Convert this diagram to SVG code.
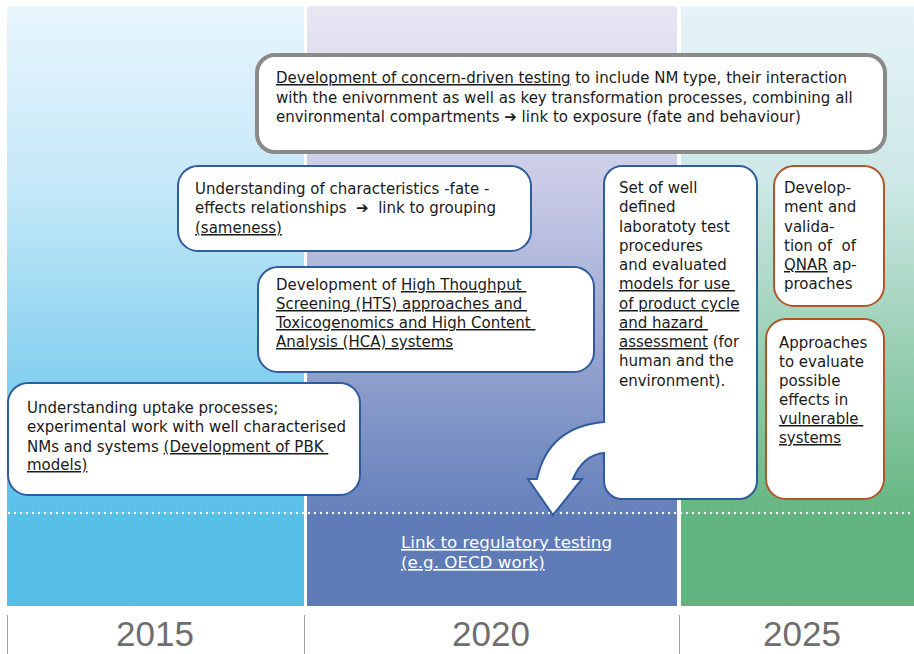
<svg xmlns="http://www.w3.org/2000/svg" width="914" height="654" viewBox="0 0 914 654" xml:space="preserve">
<defs>
<linearGradient id="gL" x1="0" y1="6" x2="0" y2="513" gradientUnits="userSpaceOnUse"><stop offset="0" stop-color="#e8f5fd"/><stop offset="0.35" stop-color="#c6e8f8"/><stop offset="1" stop-color="#58c0e9"/></linearGradient>
<linearGradient id="gM" x1="0" y1="6" x2="0" y2="513" gradientUnits="userSpaceOnUse"><stop offset="0" stop-color="#e9e7f4"/><stop offset="0.35" stop-color="#c9cbe6"/><stop offset="1" stop-color="#6580bb"/></linearGradient>
<linearGradient id="gR" x1="0" y1="6" x2="0" y2="513" gradientUnits="userSpaceOnUse"><stop offset="0" stop-color="#e6f3f9"/><stop offset="0.35" stop-color="#cde8e6"/><stop offset="1" stop-color="#66b682"/></linearGradient>
</defs>
<style>
text{font-family:"DejaVu Sans",Verdana,sans-serif;font-size:15px;fill:#1a1a1a;white-space:pre}
.u{text-decoration:underline}
.blue{fill:#fff;stroke:#2f5b9f;stroke-width:2}
.org{fill:#fff;stroke:#b0562a;stroke-width:2}
.yr{font-family:"Liberation Sans",Arial,sans-serif;font-size:35px;fill:#6e6e6e;text-anchor:middle}
.lnk{fill:#fff;font-size:16.7px}
</style>
<g id="background">
<rect x="7" y="6" width="297" height="507" fill="url(#gL)"/>
<rect x="7" y="513" width="297" height="93" fill="#55bfe8"/>
<rect x="307" y="6" width="370" height="507" fill="url(#gM)"/>
<rect x="307" y="513" width="370" height="93" fill="#5e7bb7"/>
<rect x="681" y="6" width="233" height="507" fill="url(#gR)"/>
<rect x="681" y="513" width="233" height="93" fill="#61b47f"/>
<line x1="9" y1="513" x2="914" y2="513" stroke="#fff" stroke-width="2.5" stroke-dasharray="0 6" stroke-linecap="round"/>
<g stroke="#a0a0a0" stroke-width="1"><line x1="7.5" y1="615" x2="7.5" y2="654"/><line x1="304.5" y1="615" x2="304.5" y2="654"/><line x1="679.5" y1="615" x2="679.5" y2="654"/></g>
<text class="yr" x="155" y="646">2015</text>
<text class="yr" x="491" y="646">2020</text>
<text class="yr" x="802" y="646">2025</text>
</g>
<g id="top-box">
<rect x="257" y="55" width="628" height="97" rx="18" fill="#fff" stroke="#8a8a8a" stroke-width="4"/>
<text x="276" y="83"><tspan class="u">Development of concern-driven testing</tspan> to include NM type, their interaction</text>
<text x="276" y="103">with the enivornment as well as key transformation processes, combining all</text>
<text x="276" y="122">environmental compartments ➔ link to exposure (fate and behaviour)</text>
</g>
<g id="box-grouping">
<rect x="178" y="166" width="353" height="85" rx="20" class="blue"/>
<text x="195" y="194">Understanding of characteristics -fate -</text>
<text x="195" y="213" xml:space="preserve">effects relationships  ➔  link to grouping</text>
<text x="195" y="233"><tspan class="u">(sameness)</tspan></text>
</g>
<g id="box-hts">
<rect x="258" y="267" width="336" height="105" rx="20" class="blue"/>
<text x="276" y="290">Development of <tspan class="u">High Thoughput </tspan></text>
<text x="276" y="309"><tspan class="u">Screening (HTS) approaches and </tspan></text>
<text x="276" y="328"><tspan class="u">Toxicogenomics and High Content </tspan></text>
<text x="276" y="347"><tspan class="u">Analysis (HCA) systems</tspan></text>
</g>
<g id="box-uptake">
<rect x="8" y="383" width="352" height="112" rx="20" class="blue"/>
<text x="27" y="413">Understanding uptake processes;</text>
<text x="27" y="432">experimental work with well characterised</text>
<text x="27" y="452">NMs and systems <tspan class="u">(Development of PBK </tspan></text>
<text x="27" y="470"><tspan class="u">models)</tspan></text>
</g>
<g id="box-procedures">
<path class="blue" d="M622,166 H739 A18,18 0 0 1 757,184 V481 A18,18 0 0 1 739,499 H622 A18,18 0 0 1 604,481 V453 Q583,455 573,479 H582 L553,515 L528,479 H537 Q548,427 604,422 V184 A18,18 0 0 1 622,166 Z"/>
<text x="619" y="193">Set of well</text>
<text x="619" y="212">defined</text>
<text x="619" y="232">laboratoty test</text>
<text x="619" y="251">procedures</text>
<text x="619" y="270">and evaluated</text>
<text x="619" y="289"><tspan class="u">models for use </tspan></text>
<text x="619" y="309"><tspan class="u">of product cycle</tspan></text>
<text x="619" y="328"><tspan class="u">and hazard </tspan></text>
<text x="619" y="347"><tspan class="u">assessment</tspan> (for</text>
<text x="619" y="366">human and the</text>
<text x="619" y="386">environment).</text>
</g>
<g id="box-qnar">
<rect x="774" y="166" width="110" height="140" rx="20" class="org"/>
<text x="784" y="193">Develop-</text>
<text x="784" y="212">ment and</text>
<text x="784" y="232">valida-</text>
<text x="784" y="251" xml:space="preserve">tion of  of</text>
<text x="784" y="270"><tspan class="u">QNAR</tspan> ap-</text>
<text x="784" y="289">proaches</text>
</g>
<g id="box-vulnerable">
<rect x="766" y="319" width="118" height="180" rx="20" class="org"/>
<text x="779" y="348">Approaches</text>
<text x="779" y="367">to evaluate</text>
<text x="779" y="386">possible</text>
<text x="779" y="405">effects in</text>
<text x="779" y="424"><tspan class="u">vulnerable </tspan></text>
<text x="779" y="443"><tspan class="u">systems</tspan></text>
</g>
<g id="connectors">
<text class="lnk" x="401" y="548"><tspan class="u">Link to regulatory testing</tspan></text>
<text class="lnk" x="401" y="568"><tspan class="u">(e.g. OECD work)</tspan></text>
</g>
</svg>
